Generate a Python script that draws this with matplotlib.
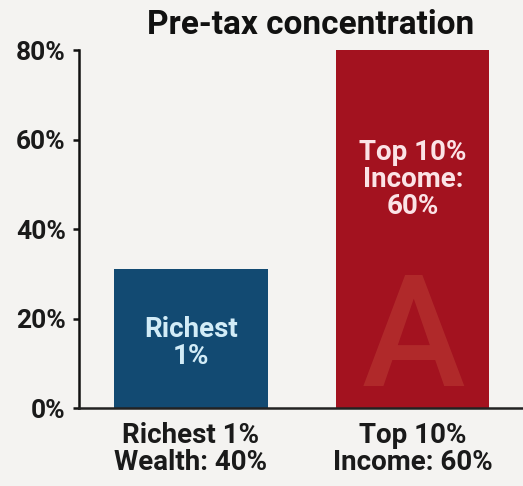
import matplotlib.pyplot as plt
import numpy as np

plt.rcParams['font.family'] = ['Roboto', 'DejaVu Sans']
plt.rcParams['font.weight'] = 'bold'

categories = ['Richest 1%\nWealth: 40%', 'Top 10%\nIncome: 60%']
values = [31, 80]
inner_labels = ['Richest\n1%', 'Top 10%\nIncome:\n60%']
inner_y = [14.5, 51]
yticks = [0, 20, 40, 60, 80]

bar_colors = ['#124a72', '#a3121f']
text_colors = ['#d2ecf7', '#fbe3e6']

fig = plt.figure(figsize=(5.23, 4.86), dpi=100)
fig.patch.set_facecolor('#f4f3f1')
ax = fig.add_axes([0.151, 0.160, 0.849, 0.737])
ax.set_facecolor('#f4f3f1')

x = np.arange(len(categories))
ax.bar(x, values, width=0.69, color=bar_colors, zorder=2)

for i in range(len(x)):
    ax.text(x[i], inner_y[i], inner_labels[i], ha='center', va='center',
            color=text_colors[i], fontsize=20, fontweight='bold',
            linespacing=1.0, zorder=4)

# faint logo on the red bar
ax.text(x[1], 14.5, 'A', ha='center', va='center', color='#b93a33',
        fontsize=112, fontweight='medium', alpha=0.6, zorder=3)

ax.set_xlim(-0.505, 1.496)
ax.set_ylim(0, 80)
ax.set_yticks(yticks)
ax.set_yticklabels([str(v) + '%' for v in yticks])
ax.set_xticks(x)
ax.set_xticklabels(categories, linespacing=1.0)

ax.tick_params(axis='y', length=4.5, width=1.8, labelsize=19, pad=5, color='#111111')
ax.tick_params(axis='x', length=0, labelsize=20, pad=10)
for lab in ax.get_yticklabels() + ax.get_xticklabels():
    lab.set_color('#1a1a1a')

ax.spines['top'].set_visible(False)
ax.spines['right'].set_visible(False)
ax.spines['left'].set_linewidth(1.8)
ax.spines['bottom'].set_linewidth(1.8)
ax.spines['left'].set_color('#111111')
ax.spines['bottom'].set_color('#222222')

fig.text(0.594, 0.948, 'Pre-tax concentration', ha='center', va='center',
         fontsize=24, fontweight='bold', color='#111111')

fig.savefig('out.png', dpi=100, facecolor=fig.get_facecolor())
